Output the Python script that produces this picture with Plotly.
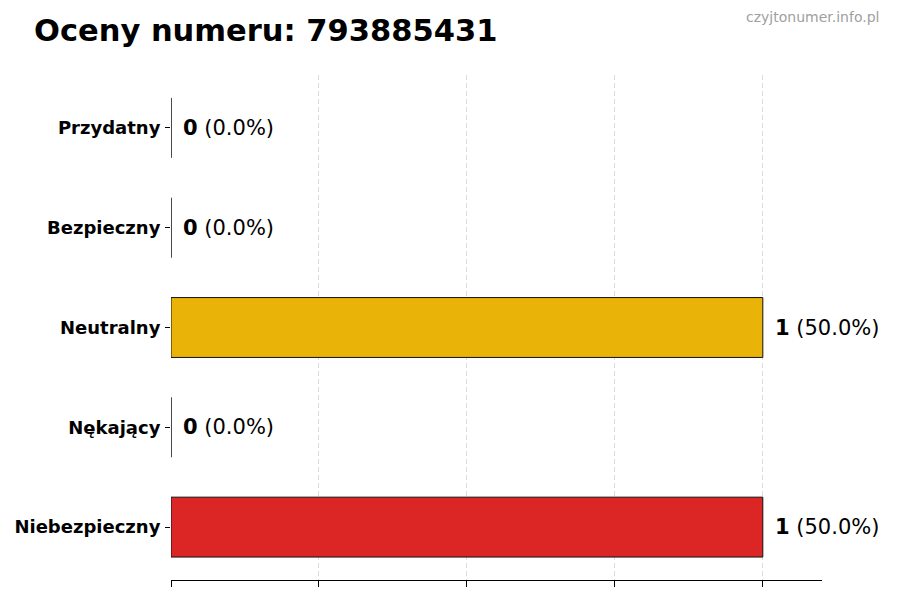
import plotly.graph_objects as go

# data
categories = ['Niebezpieczny', 'Nękający', 'Neutralny', 'Bezpieczny', 'Przydatny']
counts = [1, 0, 1, 0, 0]
colors = ['#DC2626', '#F97316', '#EAB308', '#22C55E', '#16A34A']
x_ticks = [0, 0.25, 0.5, 0.75, 1.0]

total = sum(counts)
percents = [c / total * 100 if total else 0 for c in counts]

fig = go.Figure()
fig.add_trace(go.Bar(
    x=counts,
    y=categories,
    orientation='h',
    width=0.6,
    marker=dict(color=colors, line=dict(color='#111111', width=1)),
    hoverinfo='skip',
))

# value labels next to each bar
for cat, c, p in zip(categories, counts, percents):
    fig.add_annotation(
        x=c, y=cat, xref='x', yref='y',
        text=f'<b>{c}</b> ({p:.1f}%)',
        showarrow=False, xanchor='left', xshift=10,
        font=dict(family='DejaVu Sans', size=21, color='black'),
    )

# watermark
fig.add_annotation(
    x=(881 - 171) / (900 - 171 - 78), y=1 + (75 - 17) / (600 - 75 - 20),
    xref='paper', yref='paper', xanchor='right', yanchor='middle',
    text='czyjtonumer.info.pl', showarrow=False,
    font=dict(family='DejaVu Sans', size=14, color='#a0a0a0'),
)

fig.update_layout(
    width=900, height=600,
    margin=dict(l=171, r=78, t=75, b=20, autoexpand=False),
    plot_bgcolor='white', paper_bgcolor='white',
    showlegend=False,
    title=dict(text='<b>Oceny numeru: 793885431</b>', x=34 / 900, xanchor='left',
               y=1 - 30 / 600, yanchor='middle',
               font=dict(family='DejaVu Sans', size=30.5, color='black')),
    font=dict(family='DejaVu Sans'),
)

fig.update_xaxes(
    range=[0, 1.1], tickvals=x_ticks, showticklabels=False,
    ticks='outside', ticklen=6, tickcolor='black',
    showline=True, linecolor='black', linewidth=1,
    showgrid=True, gridcolor='#dddddd', griddash='5px,3px', gridwidth=1,
    zeroline=False,
)
fig.update_yaxes(
    range=[-0.53, 4.53], ticks='outside', ticklen=5, tickcolor='black',
    showline=False, showgrid=False, zeroline=False,
    tickfont=dict(family='DejaVu Sans', size=18, color='black'),
    ticklabelstandoff=1,
    tickvals=categories, ticktext=[f'<b>{c}</b>' for c in categories],
)

# drop the default page margin so the figure sits at the window corner
fig.write_html('out.html', config={'displayModeBar': False},
               post_script="document.body.style.margin='0';")
